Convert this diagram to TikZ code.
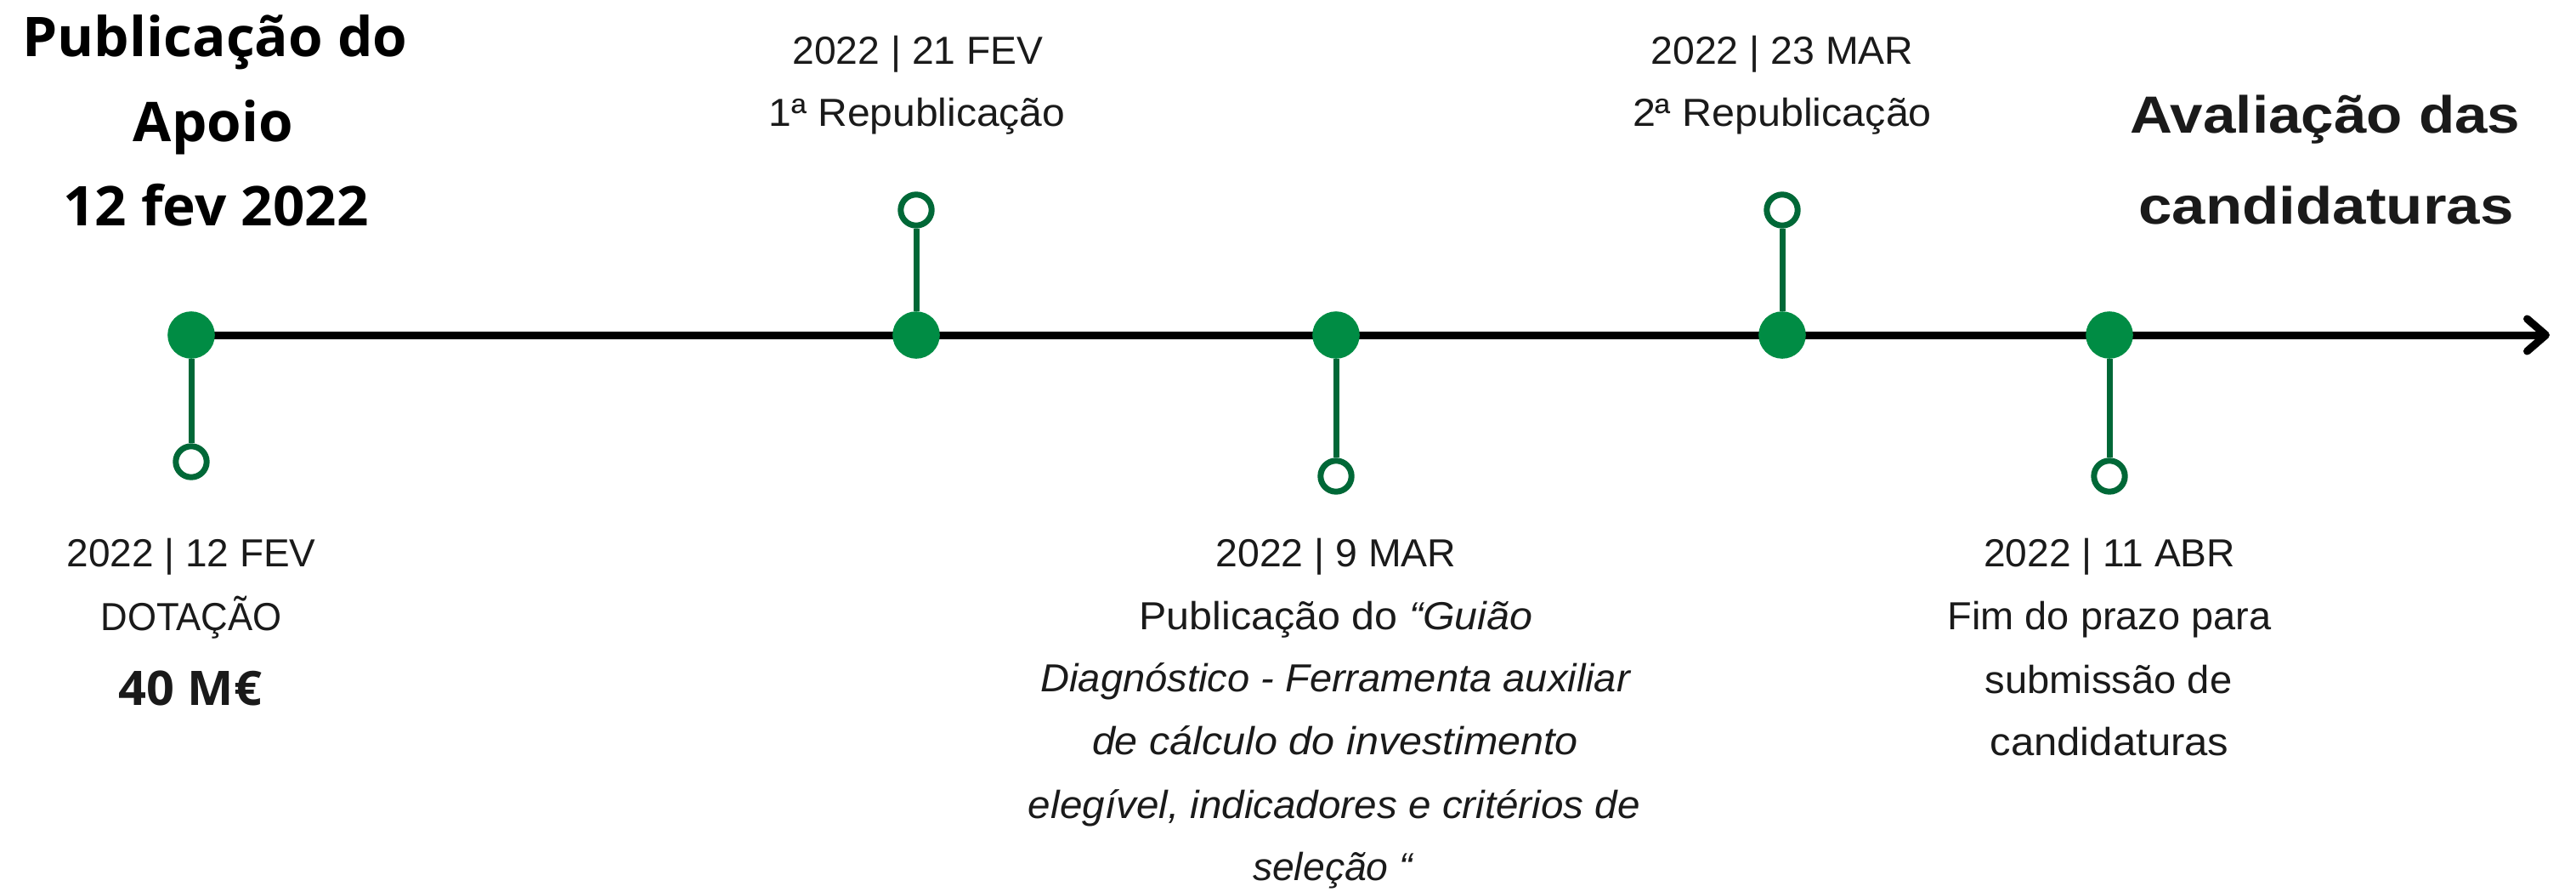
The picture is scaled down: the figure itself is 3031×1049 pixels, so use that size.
\documentclass[tikz,border=0pt]{standalone}
\usepackage{graphicx}
\usepackage{fontspec}
\setmainfont{Liberation Sans}
\newfontfamily\osans{Open Sans}
\usetikzlibrary{arrows.meta,backgrounds}
\definecolor{dotgreen}{HTML}{008C44}
\definecolor{ringgreen}{HTML}{006837}
\definecolor{txt}{HTML}{1A1A1A}
\newcommand{\fw}[2]{\resizebox{#1pt}{\height}{#2}}
\tikzset{
  dot/.style={circle, fill=dotgreen, minimum size=55.6pt, inner sep=0pt},
  ring/.style={circle, draw=ringgreen, line width=7pt, fill=white, minimum size=36.4pt, inner sep=0pt},
  stem/.style={draw=ringgreen, line width=7pt},
  axis/.style={draw=black, line width=9pt, -{Straight Barb[length=22pt,width=38pt,round]}},
  lbl/.style={anchor=base, inner sep=0pt, text=txt, font=\fontsize{46}{55}\selectfont},
  ttl/.style={anchor=base, inner sep=0pt, text=black, font=\osans\bfseries\fontsize{64.4}{70}\selectfont},
  rttl/.style={anchor=base, inner sep=0pt, text=txt, font=\bfseries\fontsize{61.5}{70}\selectfont},
  big/.style={anchor=base, inner sep=0pt, text=txt, font=\osans\bfseries\fontsize{56}{60}\selectfont}
}
\begin{document}
\begin{tikzpicture}[x=1pt,y=-1pt]
\useasboundingbox (0,0) rectangle (3031,1049);
% timeline points
\node[dot] (d1) at (225,394) {};
\node[dot] (d2) at (1078,394) {};
\node[dot] (d3) at (1572,394) {};
\node[dot] (d4) at (2097,394) {};
\node[dot] (d5) at (2482,394) {};
\node[ring] (r1) at (225,543) {};
\node[ring] (r2) at (1078,247) {};
\node[ring] (r3) at (1572,560) {};
\node[ring] (r4) at (2097,247) {};
\node[ring] (r5) at (2482,560) {};
\coordinate (tip) at (3000,394);
\begin{scope}[on background layer]
  \draw[axis] (d1.center) -- (tip);
  \draw[stem] (d1) -- (r1);
  \draw[stem] (d2) -- (r2);
  \draw[stem] (d3) -- (r3);
  \draw[stem] (d4) -- (r4);
  \draw[stem] (d5) -- (r5);
\end{scope}
% left title
\node[ttl] (t1) at (253,67) {\fw{453}{Publicação do}};
\node[ttl] (t2) at (251,166) {\fw{188}{Apoio}};
\node[ttl] (t3) at (254,265) {\fw{359}{12 fev 2022}};
% right title
\node[rttl] (u1) at (2736,156) {\fw{459}{Avaliação das}};
\node[rttl] (u2) at (2737,263) {\fw{441}{candidaturas}};
% point 1
\node[lbl] (a1) at (225,666) {\fw{293}{2022 | 12 FEV}};
\node[lbl] (a2) at (225,741) {\fw{213}{DOTAÇÃO}};
\node[big] (a3) at (224,829) {\fw{168}{40 M€}};
% point 2
\node[lbl] (b1) at (1080,75) {\fw{295}{2022 | 21 FEV}};
\node[lbl] (b2) at (1079,148) {\fw{349}{1ª Republicação}};
% point 4
\node[lbl] (c1) at (2097,75) {\fw{309}{2022 | 23 MAR}};
\node[lbl] (c2) at (2097,148) {\fw{352}{2ª Republicação}};
% point 3
\node[lbl] (e1) at (1572,666) {\fw{283}{2022 | 9 MAR}};
\node[lbl] (e2) at (1572,740) {\fw{463}{Publicação do \textit{“Guião}}};
\node[lbl] (e3) at (1572,813) {\fw{695}{\textit{Diagnóstico - Ferramenta auxiliar}}};
\node[lbl] (e4) at (1571,887) {\fw{572}{\textit{de cálculo do investimento}}};
\node[lbl] (e5) at (1570,962) {\fw{720}{\textit{elegível, indicadores e critérios de}}};
\node[lbl] (e6) at (1569,1035) {\fw{190}{\textit{seleção “}}};
% point 5
\node[lbl] (f1) at (2482,666) {\fw{296}{2022 | 11 ABR}};
\node[lbl] (f2) at (2482,740) {\fw{381}{Fim do prazo para}};
\node[lbl] (f3) at (2481,815) {\fw{291}{submissão de}};
\node[lbl] (f4) at (2482,888) {\fw{281}{candidaturas}};
\end{tikzpicture}
\end{document}
